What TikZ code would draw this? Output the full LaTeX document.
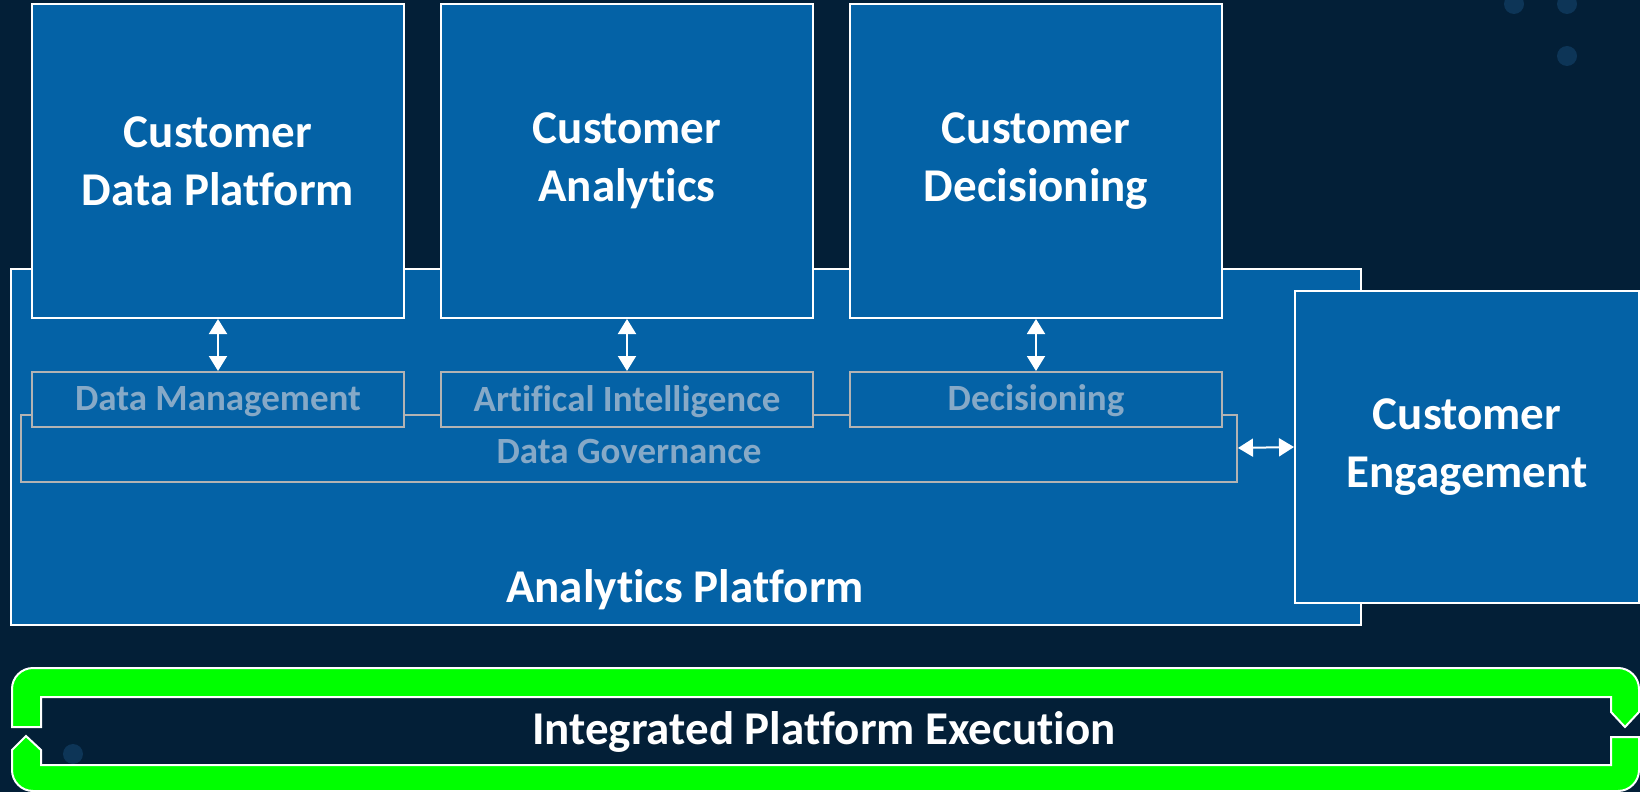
\documentclass[tikz,border=0pt]{standalone}
\usepackage{fontspec}
\setmainfont{Carlito}[Ligatures=NoCommon]
\usetikzlibrary{arrows.meta}
\definecolor{bgnavy}{HTML}{031F37}
\definecolor{boxblue}{HTML}{0462A6}
\definecolor{dotblue}{HTML}{0D3557}
\definecolor{greyline}{HTML}{B3B3B3}
\definecolor{greytext}{HTML}{86A9C7}
\definecolor{loopgreen}{HTML}{00FF00}
\tikzset{
	bigtext/.style = {text=white, font=\bfseries\fontsize{23.5}{28.8}\selectfont},
	bluebox/.style = {bigtext, draw=white, fill=boxblue, line width=1pt,
		inner sep=0pt, align=center},% white framed blue block
	topbox/.style = {bluebox, minimum width=186pt, minimum height=157pt},
	greybox/.style = {draw=greyline, fill=boxblue, line width=1pt, inner sep=0pt,
		text=greytext, font=\bfseries\fontsize{18.5}{21}\selectfont},% grey capability box
	capbox/.style = {greybox, minimum width=186pt, minimum height=27.5pt},
	biarrow/.style = {white, line width=1pt,
		{Triangle[width=9pt,length=7.5pt]}-{Triangle[width=9pt,length=7.5pt]}},
	bgdot/.style = {fill=dotblue, draw=none},
	loopband/.style = {fill=loopgreen, draw=white, line width=1pt, line join=miter}
}
\begin{document}
\begin{tikzpicture}[x=0.5pt, y=-0.5pt]
	\useasboundingbox (0,0) rectangle (1640,792);
	\fill[bgnavy] (0,0) rectangle (1640,792);
	% background dots
	\fill[bgdot] (1514,4) circle (5pt);
	\fill[bgdot] (1567,4) circle (5pt);
	\fill[bgdot] (1567,56) circle (5pt);
	\fill[bgdot] (73,754) circle (5pt);
	% platform
	\node[bluebox, minimum width=675pt, minimum height=178pt] (ap) at (686,447) {};
	\node[bigtext] (aptext) at (685,590) {Analytics Platform};
	\node[greybox, minimum width=608pt, minimum height=33.5pt] (gov) at (629,448) {};
	\node[greybox, draw=none, fill=none] (govtext) at (629,452) {Data Governance};
	\node[capbox] (dm) at (218,399.5) {};
	\node[capbox] (ai) at (627,399.5) {};
	\node[capbox] (dec) at (1036,399.5) {};
	\node[greybox, draw=none, fill=none] (dmtext) at (218,402) {Data Management};
	\node[greybox, draw=none, fill=none] (aitext) at (627,402) {Artifical Intelligence};
	\node[greybox, draw=none, fill=none] (dectext) at (1036,401) {Decisioning};
	% customer blocks
	\node[topbox] (cdp) at (218,161) {Customer\\Data Platform};
	\node[topbox] (ca) at (627,161) {Customer\\Analytics};
	\node[topbox] (cd) at (1036,161) {Customer\\Decisioning};
	\node[bluebox, minimum width=172pt, minimum height=156pt] (ce) at (1467,447) {Customer\\Engagement};
	% links
	\draw[biarrow] (cdp) -- (dm);
	\draw[biarrow] (ca) -- (ai);
	\draw[biarrow] (cd) -- (dec);
	\draw[biarrow] (gov.east) -- (ce.west);
	% execution loop
	\draw[loopband] (12,727) -- (12,689) arc[start angle=180, end angle=90, radius=10.5pt]
		-- (1618,668) arc[start angle=90, end angle=0, radius=10.5pt]
		-- (1639,712) -- (1625,727) -- (1611,712) -- (1611,697) -- (41,697) -- (41,727) -- cycle;
	\draw[loopband] (1611,737) -- (1639,737) -- (1639,770) arc[start angle=0, end angle=-90, radius=10.5pt]
		-- (33,791) arc[start angle=-90, end angle=-180, radius=10.5pt]
		-- (12,750) -- (26,736) -- (41,750) -- (41,765) -- (1611,765) -- cycle;
	\node[bigtext] (ipe) at (824,732) {Integrated Platform Execution};
\end{tikzpicture}
\end{document}
